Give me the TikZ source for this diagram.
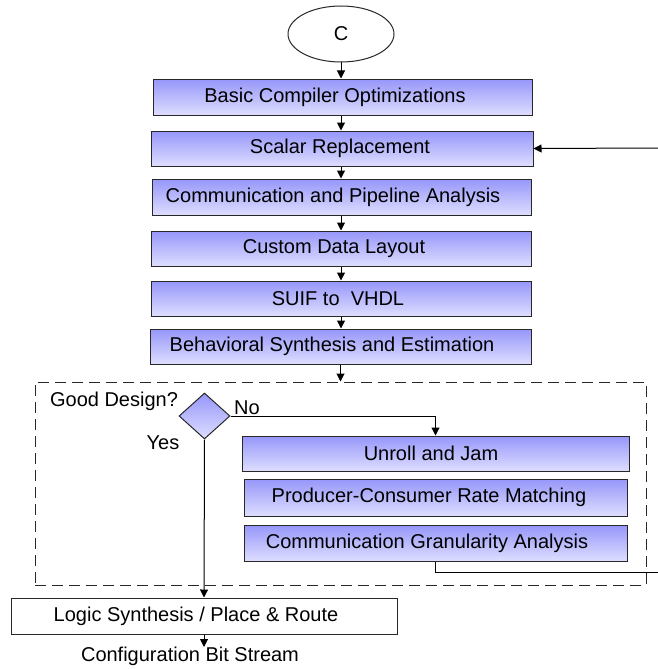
\documentclass[tikz,border=0pt]{standalone}
\usepackage{fontspec}
\setmainfont{Liberation Sans}
\usetikzlibrary{arrows.meta,shapes.geometric,calc}
\definecolor{gtop}{RGB}{150,150,250}
\definecolor{gbot}{RGB}{222,222,255}
\definecolor{edge}{RGB}{40,40,40}
\begin{document}
\begin{tikzpicture}[x=1pt,y=-1pt,
  every node/.style={font=\fontsize{20}{24}\selectfont},
  stage/.style={rectangle,draw=edge,line width=1pt,top color=gtop,bottom color=gbot,inner sep=0pt},
  plainbox/.style={rectangle,draw=edge,line width=1pt,fill=white,inner sep=0pt},
  arr/.style={line width=1pt,-{Triangle[length=8pt,width=8pt]}},
  ln/.style={line width=1pt},
  lbl/.style={inner sep=0pt}]
\useasboundingbox (0,0) rectangle (658,669);

\node[ellipse,draw=edge,line width=1pt,fill=white,minimum width=106pt,minimum height=56pt,inner sep=0pt] (C) at (341,34) {C};

\node[stage,minimum width=379pt,minimum height=36pt] (b1) at (342.5,97) {};
\node[lbl] (t1) at (335,97) {Basic Compiler Optimizations};
\node[stage,minimum width=382pt,minimum height=35pt] (b2) at (342,148.5) {};
\node[lbl] (t2) at (340,148.5) {Scalar Replacement};
\node[stage,minimum width=379pt,minimum height=36pt] (b3) at (341.5,197) {};
\node[lbl] (t3) at (333,197) {Communication and Pipeline Analysis};
\node[stage,minimum width=380pt,minimum height=35pt] (b4) at (341,248.5) {};
\node[lbl] (t4) at (334,248.5) {Custom Data Layout};
\node[stage,minimum width=380pt,minimum height=35pt] (b5) at (341,298.5) {};
\node[lbl] (t5) at (338,298.5) {SUIF to\ \ VHDL};
\node[stage,minimum width=381pt,minimum height=35pt] (b6) at (340.5,346.5) {};
\node[lbl] (t6) at (332,346.5) {Behavioral Synthesis and Estimation};

\node[rectangle,draw=edge,line width=1pt,dash pattern=on 11pt off 6pt,minimum width=611pt,minimum height=203pt,inner sep=0pt] (loop) at (340.5,483.5) {};

\node[lbl] (gd) at (114,401) {Good Design?};
\node[diamond,aspect=1.1,draw=edge,line width=1pt,top color=gtop,bottom color=gbot,minimum width=51pt,minimum height=46pt,inner sep=0pt] (dia) at (204.5,416) {};
\node[lbl] (no) at (247,408) {No};
\node[lbl] (yes) at (163,443) {Yes};

\node[stage,minimum width=387pt,minimum height=35pt] (u) at (435.5,453.5) {};
\node[lbl] (tu) at (431,453.5) {Unroll and Jam};
\node[stage,minimum width=383pt,minimum height=37pt] (p) at (435.5,497.5) {};
\node[lbl] (tp) at (429,497.5) {Producer-Consumer Rate Matching};
\node[stage,minimum width=383pt,minimum height=36pt] (g) at (435.5,543) {};
\node[lbl] (tg) at (427,543) {Communication Granularity Analysis};

\node[plainbox,minimum width=386pt,minimum height=36pt] (logic) at (204,616) {};
\node[lbl] (tl) at (196,616) {Logic Synthesis / Place \& Route};
\node[lbl] (cbs) at (190,656) {Configuration Bit Stream};
\coordinate (cbstip) at (204,647);

\coordinate (fbout) at (658,572);
\coordinate (fbin) at (658,148);

\draw[arr] (C.south) -- (C.south |- b1.north);
\draw[arr] (b1.south -| C) -- (C |- b2.north);
\draw[arr] (b2.south -| C) -- (C |- b3.north);
\draw[arr] (b3.south -| C) -- (C |- b4.north);
\draw[arr] (b4.south -| C) -- (C |- b5.north);
\draw[arr] (b5.south -| C) -- (C |- b6.north);
\draw[arr] (b6.south -| loop.north) -- (loop.north);
\draw[arr] (dia.east) -| (u.north);
\draw[arr] (dia.south) -- (logic.north);
\draw[arr] (logic.south) -- (cbstip);
\draw[ln] (g.south) |- (fbout);
\draw[arr] (fbin) -- (b2.east);
\end{tikzpicture}
\end{document}
